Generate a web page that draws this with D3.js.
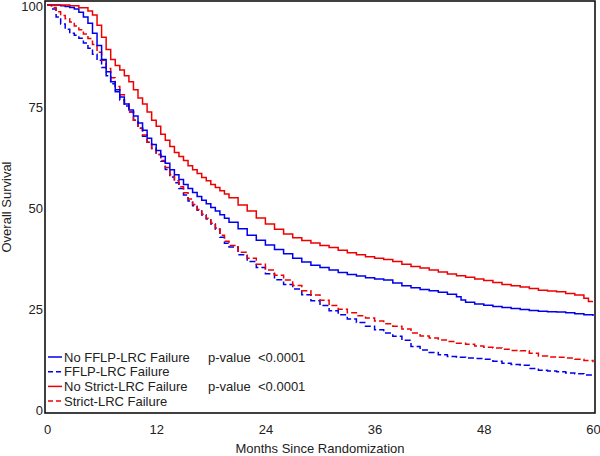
<!DOCTYPE html>
<html>
<head>
<meta charset="utf-8">
<script src="https://cdn.jsdelivr.net/npm/d3@7"></script>
<style>
  html, body { margin: 0; padding: 0; background: #fff; }
  svg { display: block; }
  text { font-family: Arial, "Liberation Sans", sans-serif; }
</style>
</head>
<body>
<svg id="chart" width="600" height="456"></svg>
<script>
// ---------------- DATA ----------------
const xTicks = [0, 12, 24, 36, 48, 60];
const yTicks = [0, 25, 50, 75, 100];
const xTitle = "Months Since Randomization";
const yTitle = "Overall Survival";

const seriesNames = ["No FFLP-LRC Failure", "FFLP-LRC Failure", "No Strict-LRC Failure", "Strict-LRC Failure"];
const pLabels = ["p-value  <0.0001", "", "p-value  <0.0001", ""];

// No FFLP-LRC Failure (blue solid)
const monthsNoFFLP = [0,1,1.5,2,2.5,3,3.5,4,4.5,5,5.5,6,6.5,7,7.5,8,8.5,9,9.5,10,10.5,11,11.5,12,12.5,13,13.5,14,14.5,15,15.5,16,16.5,17,17.5,18,18.5,19,19.5,20,21,22,23,24,25,26,27,28,29,30,31,32,33,34,35,36,37,38,39,40,41,42,43,44,45,45.5,46,47,48,49,50,51,52,53,54,55,56,57,58,59,60];
const survNoFFLP  = [100,100,99.8,99.6,99.4,99,98.2,97,95.5,93,90,86.5,83.5,81,79,77.2,75.5,74,72.5,70.8,69,67,65.5,64,62.5,60.8,59.2,58,56.8,55.6,54.6,53.6,52.6,51.7,50.8,49.9,49,48.1,47.2,46.2,44.6,43,41.8,40.6,39.5,38.4,37.3,36.4,35.6,35,34.4,33.8,33.3,32.9,32.5,32.2,31.9,31.2,30.5,30,29.6,29.3,28.9,28.4,27.8,27,26.4,26,25.7,25.4,25.1,24.9,24.6,24.4,24.2,24.1,24,23.8,23.6,23.3,23];

// FFLP-LRC Failure (blue dashed)
const monthsFFLP = [0,0.5,1,1.5,2,2.5,3,3.5,4,4.5,5,5.5,6,6.5,7,7.5,8,8.5,9,9.5,10,10.5,11,11.5,12,12.5,13,13.5,14,14.5,15,15.5,16,16.5,17,17.5,18,18.5,19,19.5,20,21,22,23,24,25,26,27,28,29,30,31,32,33,34,35,36,37,38,39,40,41,42,43,44,45,46,47,48,49,50,51,52,53,54,55,56,57,58,59,60];
const survFFLP  = [100,99,97,95.3,94,93,92.5,91.8,90.6,89.3,87.8,86.3,84.5,82.5,80.5,78.5,76.5,75,73.5,71.5,69.5,67.5,66,64.5,63,61.3,59.3,57.4,56,54.6,53,51.5,50.3,49.2,48,47,45.8,44.5,42.5,41,40.1,38.2,36.5,35,33.5,32,30.8,29.7,28.3,26.8,25.6,24.3,23.3,22.3,21.4,20.5,19.6,18.8,18,17,15.5,14.6,14,13.4,13,12.8,12.6,12.5,12.3,11.8,11.3,11,10.8,10,9.6,9.4,9.2,8.9,8.7,8.4,7.9];

// No Strict-LRC Failure (red solid)
const monthsNoStrict = [0,1,2,2.5,3.5,4.5,5,5.5,6,6.5,7,7.5,8,8.5,9,9.5,10,10.5,11,11.5,12,12.5,13,13.5,14,14.5,15,15.5,16,16.5,17,17.5,18,18.5,19,19.5,20,21,22,23,24,25,26,27,28,29,30,31,32,33,34,35,36,37,38,39,40,41,42,43,44,45,46,47,48,49,50,51,52,53,54,55,56,57,58,59,59.5,60];
const survNoStrict  = [100,100,100,99.8,99.3,98.5,97.5,95,92,89,86.5,85,83.9,82.5,81,79,77,75.5,73.5,71.5,70,68,66.5,65,63.5,62.5,61.5,60.2,59.2,58.3,57.3,56.5,55.6,54.8,54,53.2,52.3,50.5,49,47.3,45.8,44.5,43.3,42.4,41.7,41.1,40.5,40,39.3,38.7,38.2,37.7,37.3,37,36.5,35.8,35.3,34.9,34.4,33.9,33.4,33,32.6,32.2,31.8,31.3,30.8,30.5,30.2,29.8,29.4,29.2,29,28.6,28.2,27.4,26.6,26.6];

// Strict-LRC Failure (red dashed)
const monthsStrict = [0,0.5,1,1.5,2,2.5,3,3.5,4,4.5,5,5.5,6,6.5,7,7.5,8,8.5,9,9.5,10,10.5,11,11.5,12,12.5,13,13.5,14,14.5,15,15.5,16,16.5,17,17.5,18,18.5,19,19.5,20,21,22,23,24,25,26,27,28,29,30,31,32,33,34,35,36,37,38,39,40,41,42,43,44,45,46,47,48,49,50,51,52,53,54,55,56,57,58,59,60];
const survStrict  = [100,99.4,98.3,97.4,96.6,95.8,94.8,93.9,92.8,91.7,90.2,88.3,86.3,84.3,82,79.8,77.8,75.5,73.5,71.5,69.5,67.8,66,64.5,63,61.5,59.8,58,56.5,55,53.5,52,50.6,49.4,48.2,47.2,46,44.8,43,41.5,40.5,38.8,37.3,35.8,34.4,33.1,31.9,30.6,29.3,28.2,26.9,25.6,24.7,23.8,23.1,22.5,21.8,21.1,20.5,19.8,18.8,18.1,17.6,17.1,16.7,16.3,16,15.6,15.3,15.1,14.8,14.5,14.4,13.8,13.1,12.9,12.8,12.6,12.3,12,11.6];

// ---------------- CHART ----------------
const svg = d3.select("#chart");
const box = { left: 45, top: 1, right: 595, bottom: 413 };

const x = d3.scaleLinear().domain([0, 60]).range([47, 593]);
const y = d3.scaleLinear().domain([0, 100]).range([409, 5]);

const styles = [
  { color: "#0000ee", dash: null },
  { color: "#0000ee", dash: "6,3" },
  { color: "#ee0000", dash: null },
  { color: "#ee0000", dash: "6,3" }
];
const seriesData = [
  [monthsNoFFLP, survNoFFLP],
  [monthsFFLP, survFFLP],
  [monthsNoStrict, survNoStrict],
  [monthsStrict, survStrict]
];

const line = d3.line()
  .x(d => x(d[0]))
  .y(d => y(d[1]))
  .curve(d3.curveStepAfter);

const drawOrder = [1, 3, 0, 2];
drawOrder.forEach(i => {
  const [m, s] = seriesData[i];
  const pts = m.map((v, k) => [v, s[k]]);
  svg.append("path")
    .attr("d", line(pts))
    .attr("fill", "none")
    .attr("stroke", styles[i].color)
    .attr("stroke-width", 1.5)
    .attr("stroke-dasharray", styles[i].dash);
});

// frame
svg.append("rect")
  .attr("x", box.left).attr("y", box.top)
  .attr("width", box.right - box.left).attr("height", box.bottom - box.top)
  .attr("fill", "none").attr("stroke", "#111").attr("stroke-width", 1.6);

// x tick labels
const xAxis = d3.axisBottom(x).tickValues(xTicks).tickSize(0).tickPadding(0);
const gx = svg.append("g").attr("transform", `translate(0,${box.bottom})`).call(xAxis);
gx.select(".domain").remove();
gx.selectAll("text")
  .attr("dy", null).attr("y", 21)
  .attr("font-size", 13).attr("fill", "#222")
  .style("font-family", "Arial, 'Liberation Sans', sans-serif");

// y tick labels
const yAxis = d3.axisLeft(y).tickValues(yTicks).tickSize(0).tickPadding(0);
const gy = svg.append("g").attr("transform", `translate(43,1.5)`).call(yAxis);
gy.select(".domain").remove();
gy.selectAll("text")
  .attr("font-size", 13).attr("fill", "#222")
  .style("font-family", "Arial, 'Liberation Sans', sans-serif");

// axis titles
svg.append("text")
  .attr("x", 320).attr("y", 453)
  .attr("text-anchor", "middle")
  .attr("font-size", 13).attr("fill", "#222")
  .text(xTitle);

svg.append("text")
  .attr("transform", "translate(11,207) rotate(-90)")
  .attr("text-anchor", "middle")
  .attr("font-size", 13).attr("fill", "#222")
  .text(yTitle);

// legend
const legendY0 = 357, legendDy = 14.7;
seriesNames.forEach((name, i) => {
  const yy = legendY0 + i * legendDy;
  svg.append("line")
    .attr("x1", 48).attr("x2", 62).attr("y1", yy).attr("y2", yy)
    .attr("stroke", styles[i].color).attr("stroke-width", 1.5)
    .attr("stroke-dasharray", styles[i].dash ? "5,3" : null);
  svg.append("text")
    .attr("x", 64).attr("y", yy).attr("dy", "0.35em")
    .attr("font-size", 13).attr("fill", "#222")
    .text(name);
  if (pLabels[i]) {
    svg.append("text")
      .attr("x", 208).attr("y", yy).attr("dy", "0.35em")
      .attr("font-size", 13).attr("fill", "#222")
      .text("p-value");
    svg.append("text")
      .attr("x", 258).attr("y", yy).attr("dy", "0.35em")
      .attr("font-size", 13).attr("fill", "#222")
      .text("<0.0001");
  }
});
</script>
</body>
</html>
